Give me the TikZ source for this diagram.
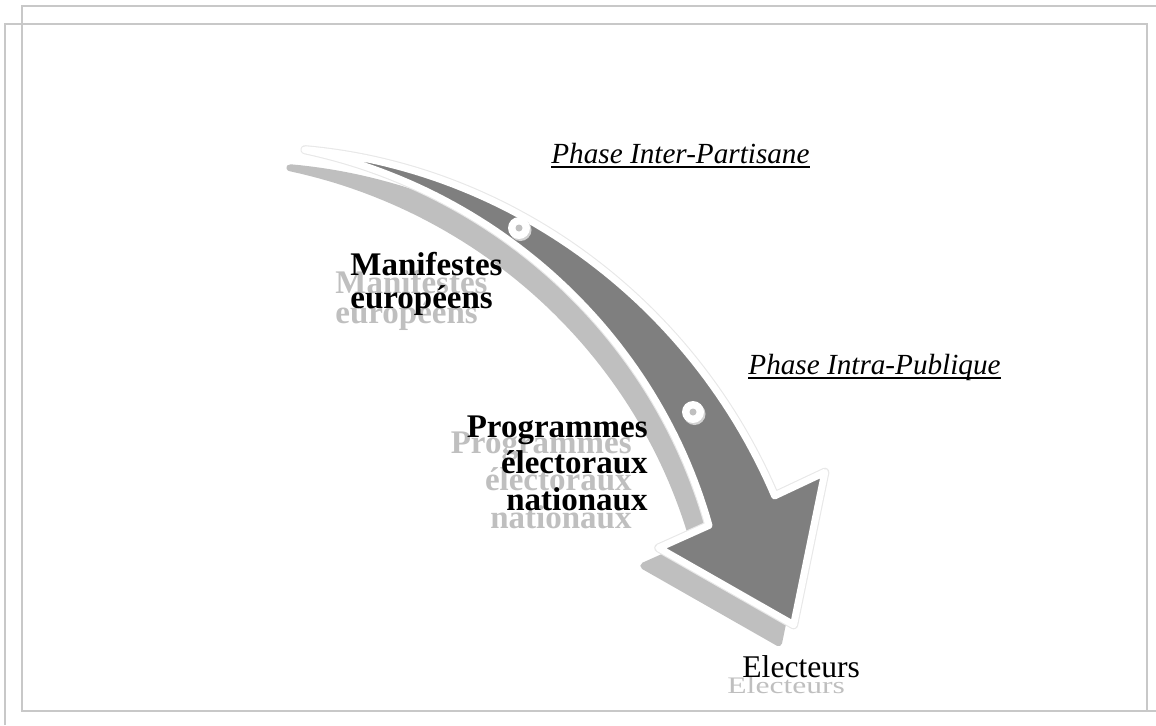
\documentclass[tikz,border=0pt]{standalone}
\usepackage{fontspec}
\setmainfont{Liberation Serif}

\definecolor{arrowgray}{HTML}{7F7F7F}
\definecolor{shadegray}{HTML}{BFBFBF}
\definecolor{framegray}{HTML}{C8C8C8}

% outline of the curved arrow, in pixels
\newcommand{\arrowpath}{
  plot[domain=75.2:24.2, samples=60] ({138+(arcr(\x)+arch(\x))*cos(\x)}, {782-(arcr(\x)+arch(\x))*sin(\x)})
  -- (824.8,472.3) -- (793.6,624.7) -- (658.8,547.9)
  -- plot[domain=24.2:75.2, samples=60] ({138+(arcr(\x)-arch(\x))*cos(\x)}, {782-(arcr(\x)-arch(\x))*sin(\x)})
  -- cycle}

\begin{document}
\begin{tikzpicture}[x=0.5pt, y=-0.5pt,
    declare function={arcu(\t)=(\t-24.2)/51;
      arcr(\t)=662+48.2*arcu(\t)-56.2*arcu(\t)^2;
      arch(\t)=36*(1-arcu(\t));},
    frameline/.style={draw=framegray, line width=1pt},
    phase/.style={font=\fontsize{14.6}{17}\selectfont\itshape, inner sep=0pt, anchor=base west},
    label/.style={font=\fontsize{16.5}{16.5}\selectfont\bfseries, inner sep=0pt},
    ghost/.style={text=shadegray},
    ring/.style={circle, fill=white, minimum size=11pt, inner sep=0pt},
    core/.style={circle, fill=shadegray, minimum size=3.5pt, inner sep=0pt}]
  \useasboundingbox (0,0) rectangle (1156,725);

  % frames
  \draw[frameline] (1156,6) -- (22,6) -- (22,711) -- (1156,711);
  \draw[frameline] (5,725) -- (5,24) -- (1147,24) -- (1147,711);

  % arrow with its shadow
  \filldraw[shadegray, line width=3.5pt, line join=round, shift={(-15,18)}] \arrowpath;
  \draw[gray!18, line width=4.6pt, line join=round] \arrowpath;
  \filldraw[fill=arrowgray, draw=white, line width=3.5pt, line join=round] \arrowpath;

  % marks on the arrow
  \node[ring, fill=gray!35] (ringAs) at (520.5,230) {};
  \node[ring] (ringA) at (519,228) {};
  \node[core] (coreA) at (ringA) {};
  \node[ring, fill=gray!35] (ringBs) at (694.5,414) {};
  \node[ring] (ringB) at (693,412) {};
  \node[core] (coreB) at (ringB) {};

  % phases
  \node[phase] (inter) at (551,163) {Phase Inter-Partisane};
  \node[phase] (intra) at (748,374) {Phase Intra-Publique};
  \draw[line width=0.75pt] ([yshift=-2pt]inter.base west) -- ([yshift=-2pt]inter.base east);
  \draw[line width=0.75pt] ([yshift=-2pt]intra.base west) -- ([yshift=-2pt]intra.base east);

  % documents (base = last line)
  \node[label, ghost, align=left, anchor=base west, font=\fontsize{16.5}{15}\selectfont\bfseries] (manifs) at (335,323) {Manifestes\\europ\'eens};
  \node[label, align=left, anchor=base west] (manif) at (350,308) {Manifestes\\europ\'eens};
  \node[label, ghost, align=right, anchor=base east, font=\fontsize{16.5}{18.75}\selectfont\bfseries] (progs) at (632,528) {Programmes\\\'electoraux\\nationaux};
  \node[label, align=right, anchor=base east, font=\fontsize{16.5}{18.25}\selectfont\bfseries] (prog) at (648,510) {Programmes\\\'electoraux\\nationaux};

  % voters
  \node[ghost, inner sep=0pt, anchor=base west, font=\fontsize{15.8}{18}\selectfont] (votes) at (727,693) {\scalebox{1}[0.75]{Electeurs}};
  \node[inner sep=0pt, anchor=base west, font=\fontsize{15.8}{18}\selectfont] (vote) at (742,677) {Electeurs};
\end{tikzpicture}
\end{document}
